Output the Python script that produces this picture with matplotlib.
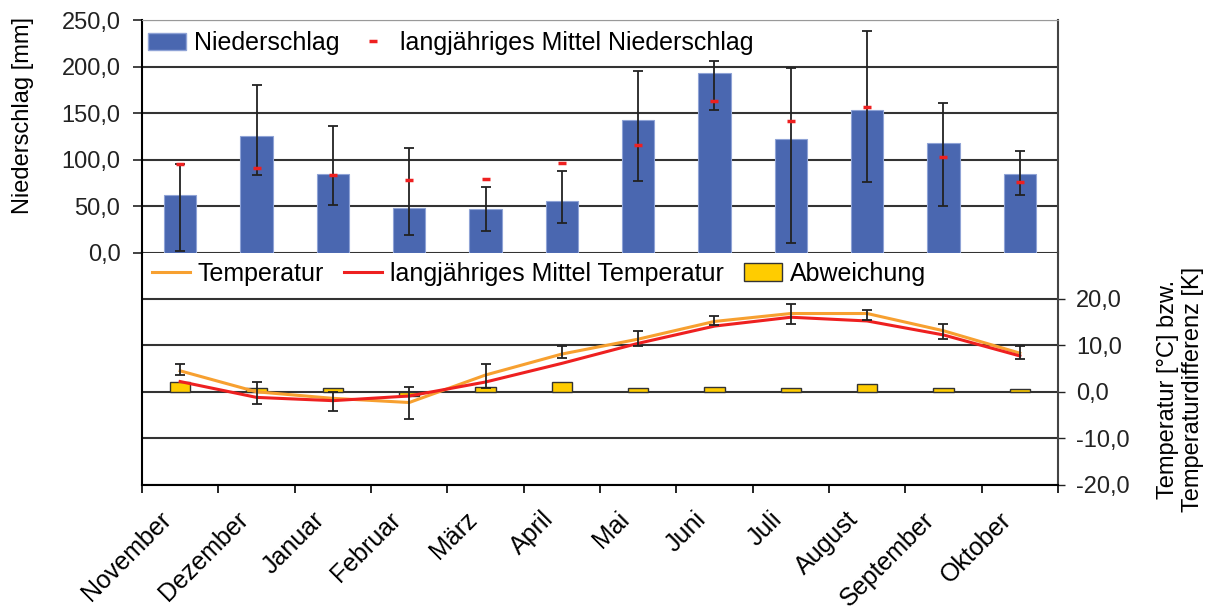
import numpy as np
import matplotlib
matplotlib.use('Agg')
import matplotlib.pyplot as plt
import matplotlib.transforms as mtransforms
from matplotlib.patches import Patch
from matplotlib.lines import Line2D

plt.rcParams['font.family'] = ['Liberation Sans', 'DejaVu Sans']

# Monate (hydrologisches Jahr)
monate = ['November', 'Dezember', 'Januar', 'Februar', 'März', 'April',
          'Mai', 'Juni', 'Juli', 'August', 'September', 'Oktober']

# Niederschlag [mm]
niederschlag = [62, 125.5, 84.5, 48.5, 47, 55.5, 142.5, 193, 122.5, 153, 118.5, 84.5]
ns_min = [2, 83.5, 52, 19, 23.5, 32, 77.5, 153.5, 10.5, 76, 50.5, 62]
ns_max = [95.5, 180.5, 136.5, 112.5, 70.5, 88, 195.5, 206.5, 198.5, 238, 161, 109.5]
ns_mittel = [96, 91.5, 84, 78.5, 79.5, 96.5, 116, 163, 141.5, 156.5, 103.5, 76]

# Temperatur [°C]
temperatur = [4.5, 0.0, -1.4, -2.3, 3.6, 8.1, 11.3, 15.1, 16.8, 16.8, 13.1, 8.3]
t_mittel = [2.2, -1.2, -1.9, -0.9, 2.1, 6.1, 10.4, 14.1, 16.0, 15.2, 12.2, 7.7]
t_min = [3.6, -2.6, -4.1, -5.8, 0.8, 7.3, 9.8, 14.3, 14.6, 15.4, 11.4, 7.1]
t_max = [5.9, 2.0, 0.0, 1.1, 5.9, 9.8, 13.1, 16.2, 18.8, 17.6, 14.5, 9.9]
abweichung = [2.0, 0.8, 0.8, -1.0, 1.1, 2.0, 0.8, 1.1, 0.8, 1.7, 0.8, 0.5]

x = np.arange(len(monate))
blau = '#4a67b0'
orange = '#f7a030'
rot = '#ee2020'
gelb = '#ffcc00'
grid_col = '#333333'

fig = plt.figure(figsize=(12.19, 6.13), dpi=100)
W, H = 1219, 613
left, right = 142 / W, 1058 / W
ax1 = fig.add_axes([left, (H - 253) / H, right - left, 233 / H])
ax2 = fig.add_axes([left, (H - 485) / H, right - left, 233 / H])

# ---- Niederschlag ----
ns_err = [np.array(niederschlag) - np.array(ns_min), np.array(ns_max) - np.array(niederschlag)]
ax1.bar(x, niederschlag, width=0.42, color=blau, edgecolor='#8fa3d6', linewidth=0.8, zorder=3)
ax1.errorbar(x, niederschlag, yerr=ns_err, fmt='none', ecolor='#222222', elinewidth=1.3,
             capsize=3.5, capthick=1.3, zorder=4)
ax1.plot(x, ns_mittel, ls='none', marker='_', color=rot, ms=6, mew=2.5, zorder=5)
ax1.set_xlim(-0.5, 11.5)
ax1.set_ylim(0, 250)
ax1.set_yticks(np.arange(0, 251, 50))
ax1.set_yticklabels([f'{v:.1f}'.replace('.', ',') for v in np.arange(0, 251, 50)], fontsize=17)
ax1.set_xticks([])
ax1.grid(axis='y', color=grid_col, linewidth=1.5, zorder=1)
ax1.tick_params(axis='y', length=6.5, width=1.2, pad=9, colors='#222222')
ax1.set_ylabel('Niederschlag [mm]', fontsize=17)
ax1.yaxis.set_label_coords(-0.118, 0.59)
ax1.spines['top'].set_color('#999999')
ax1.spines['bottom'].set_visible(False)
ax1.spines['left'].set_linewidth(1.5)
ax1.spines['right'].set_linewidth(1.5)
ax1.spines['right'].set_color('#444444')
ax1.set_facecolor('none')

h1 = [Patch(facecolor=blau, edgecolor='#8fa3d6'),
      Line2D([], [], ls='none', marker='_', color=rot, ms=6, mew=2.5)]
ax1.legend(h1, ['Niederschlag', 'langjähriges Mittel Niederschlag'], loc='center left',
           bbox_to_anchor=(0.0066, 0.901), ncol=2, frameon=False, fontsize=18,
           borderpad=0, borderaxespad=0, handlelength=1.52, columnspacing=0.6,
           handletextpad=0.3)

# ---- Temperatur ----
t_err = [np.array(temperatur) - np.array(t_min), np.array(t_max) - np.array(temperatur)]
ax2.bar(x, abweichung, width=0.27, color=gelb, edgecolor='#333333', linewidth=1.0, zorder=3)
ax2.plot(x, temperatur, color=orange, lw=2.2, zorder=4)
ax2.plot(x, t_mittel, color=rot, lw=2.2, zorder=4)
ax2.errorbar(x, temperatur, yerr=t_err, fmt='none', ecolor='#222222', elinewidth=1.3,
             capsize=3.5, capthick=1.3, zorder=5)
ax2.set_xlim(-0.5, 11.5)
ax2.set_ylim(-20, 30)
ax2.set_yticks([-20, -10, 0, 10, 20])
ax2.set_yticklabels([f'{v:.1f}'.replace('.', ',') for v in [-20, -10, 0, 10, 20]], fontsize=17)
ax2.yaxis.tick_right()
ax2.yaxis.set_label_position('right')
ax2.tick_params(axis='y', length=5, width=1.0, pad=8, colors='#222222')
ax2.grid(axis='y', color=grid_col, linewidth=1.5, zorder=1)
ax2.set_ylabel('Temperatur [°C] bzw.\nTemperaturdifferenz [K]', fontsize=17)
ax2.yaxis.set_label_coords(1.108, 0.41)
ax2.set_xticks(x)
ax2.set_xticklabels(monate, rotation=45, ha='right', rotation_mode='anchor', fontsize=18)
ax2.tick_params(axis='x', length=0, pad=16)
shift = mtransforms.ScaledTranslation(-21 / 100, 0, fig.dpi_scale_trans)
for lab in ax2.get_xticklabels():
    lab.set_transform(lab.get_transform() + shift)
ax2.set_xticks(np.arange(-0.5, 12, 1), minor=True)
ax2.tick_params(axis='x', which='minor', length=6, width=1.2)
ax2.spines['top'].set_visible(False)
ax2.spines['left'].set_linewidth(1.5)
ax2.spines['right'].set_linewidth(1.5)
ax2.spines['right'].set_color('#444444')
ax2.spines['bottom'].set_linewidth(1.5)
ax2.set_facecolor('none')

h2 = [Line2D([], [], color=orange, lw=2.2), Line2D([], [], color=rot, lw=2.2),
      Patch(facecolor=gelb, edgecolor='#333333')]
ax2.legend(h2, ['Temperatur', 'langjähriges Mittel Temperatur', 'Abweichung'], loc='center left',
           bbox_to_anchor=(0.011, 0.906), ncol=3, frameon=False, fontsize=18,
           borderpad=0, borderaxespad=0, handlelength=1.52, columnspacing=0.82,
           handletextpad=0.3)

fig.savefig('out.png', dpi=100)
